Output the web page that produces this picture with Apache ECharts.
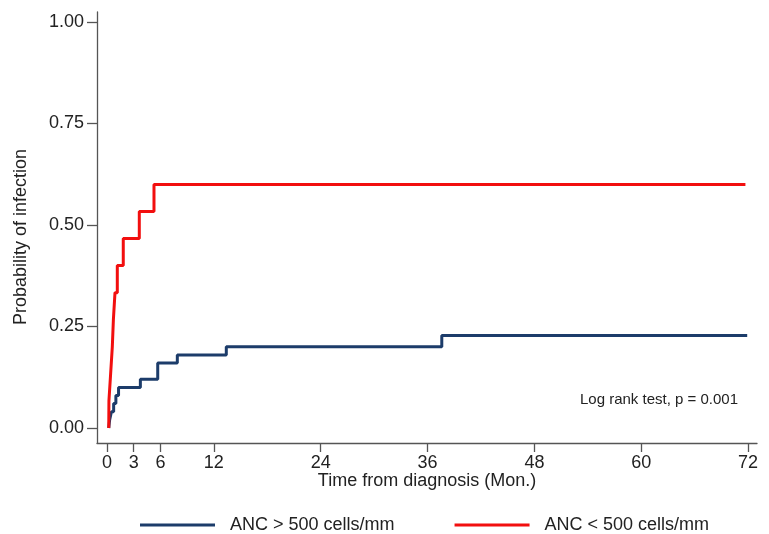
<!DOCTYPE html>
<html>
<head>
<meta charset="utf-8">
<script src="https://cdn.jsdelivr.net/npm/echarts@6/dist/echarts.min.js"></script>
<style>
html,body{margin:0;padding:0;background:#fff;}
#chart{width:769px;height:534px;}
</style>
</head>
<body>
<div id="chart"></div>
<script>
// Kaplan-Meier style cumulative incidence (time in months, probability)
const ancHighTime = [0.2, 0.3, 0.5, 0.75, 1.0, 1.3, 3.75, 5.7, 7.9, 13.4, 37.6, 71.9];
const ancHighProb = [0, 0.02, 0.04, 0.06, 0.08, 0.10, 0.12, 0.16, 0.18, 0.20, 0.228, 0.228];

const ancLowTime = [0.2, 0.22, 0.41, 0.6, 0.72, 0.9, 1.16, 1.83, 3.63, 5.28, 71.7];
const ancLowProb = [0, 0.0667, 0.1333, 0.2, 0.2667, 0.3333, 0.4, 0.4667, 0.5333, 0.6, 0.6];

const xTicks = [0, 3, 6, 12, 24, 36, 48, 60, 72];
const yTicks = [0, 0.25, 0.5, 0.75, 1.0];

const seriesNames = ['ANC > 500 cells/mm', 'ANC < 500 cells/mm'];
const yTitle = 'Probability of infection';
const xTitle = 'Time from diagnosis (Mon.)';
const annotation = 'Log rank test, p = 0.001';

const zip = (a, b) => a.map((v, i) => [v, b[i]]);
const FONT = 'Arial, "Liberation Sans", sans-serif';
const AXC = '#555555';

const chart = echarts.init(document.getElementById('chart'), null, {renderer: 'canvas'});
chart.setOption({
  backgroundColor: '#ffffff',
  animation: false,
  grid: {left: 97, right: 12, top: 12, bottom: 91, containLabel: false},
  xAxis: {
    type: 'value',
    min: -1.12, max: 73.0,
    name: xTitle,
    nameLocation: 'middle',
    nameGap: 29,
    nameMoveOverlap: false,
    nameTextStyle: {fontFamily: FONT, fontSize: 18, color: '#222'},
    axisLine: {show: true, onZero: false, lineStyle: {color: AXC, width: 1.3}},
    axisTick: {show: true, length: 9, customValues: xTicks, lineStyle: {color: AXC, width: 1.3}},
    axisLabel: {customValues: xTicks, margin: 11, fontFamily: FONT, fontSize: 18, color: '#222'},
    splitLine: {show: false}
  },
  yAxis: {
    type: 'value',
    min: -0.037, max: 1.0246,
    axisLine: {show: true, onZero: false, lineStyle: {color: AXC, width: 1.3}},
    axisTick: {show: true, length: 10, customValues: yTicks, lineStyle: {color: AXC, width: 1.3}},
    axisLabel: {customValues: yTicks, margin: 13, fontFamily: FONT, fontSize: 18, color: '#222',
      formatter: v => v.toFixed(2)},
    splitLine: {show: false}
  },
  legend: {
    left: 135, top: 511,
    itemWidth: 75, itemHeight: 3, itemGap: 60,
    icon: 'rect',
    textStyle: {fontFamily: FONT, fontSize: 18, color: '#222', padding: [0, 0, 0, 10]},
    data: seriesNames
  },
  graphic: [
    {
      type: 'text', x: 21, y: 237, rotation: Math.PI / 2,
      style: {text: yTitle, font: '18px ' + FONT, fill: '#222', align: 'center', verticalAlign: 'middle'}
    },
    {
      type: 'text', left: 580, top: 392,
      style: {text: annotation, font: '15px ' + FONT, fill: '#222'}
    }
  ],
  series: [
    {
      name: seriesNames[0], type: 'line', step: 'end', showSymbol: false,
      data: zip(ancHighTime, ancHighProb),
      lineStyle: {color: '#1c3c6a', width: 3}, itemStyle: {color: '#1c3c6a'}
    },
    {
      name: seriesNames[1], type: 'line', step: 'end', showSymbol: false,
      data: zip(ancLowTime, ancLowProb),
      lineStyle: {color: '#f20f0f', width: 3}, itemStyle: {color: '#f20f0f'}
    }
  ]
});
</script>
</body>
</html>
